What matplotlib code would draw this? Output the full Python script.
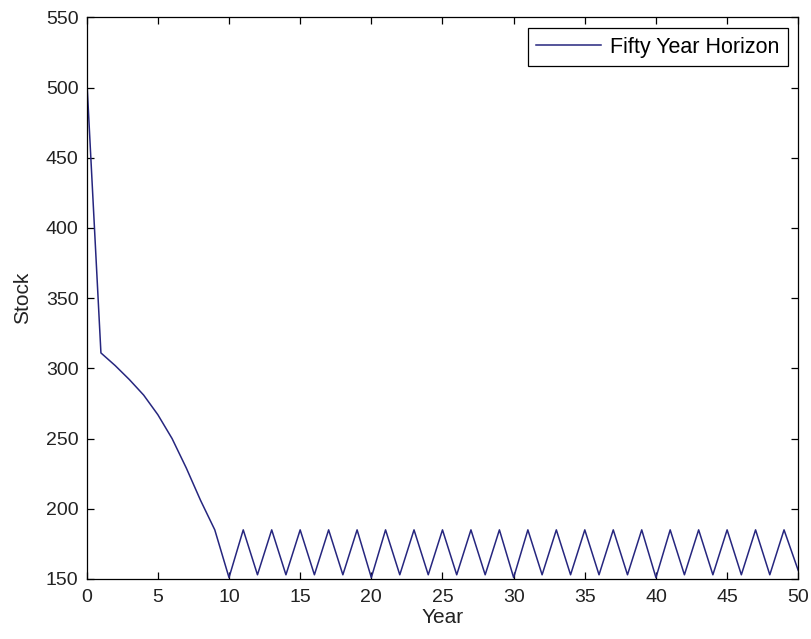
import matplotlib
matplotlib.use('Agg')
import matplotlib.pyplot as plt

# values
years = list(range(0, 51))
stock = [507, 311, 302, 292, 281, 267, 250, 229, 206, 185,
         151, 185, 153, 185, 153, 185, 153, 185, 153, 185,
         151, 185, 153, 185, 153, 185, 153, 185, 153, 185,
         151, 185, 153, 185, 153, 185, 153, 185, 153, 185,
         151, 185, 153, 185, 153, 185, 153, 185, 153, 185,
         156]

x_ticks = [0, 5, 10, 15, 20, 25, 30, 35, 40, 45, 50]
y_ticks = [150, 200, 250, 300, 350, 400, 450, 500, 550]

plt.rcParams['font.family'] = ['Liberation Sans', 'DejaVu Sans']

fig = plt.figure(figsize=(8.11, 6.39), dpi=100)
ax = fig.add_axes([0.1069, 0.0939, 0.8774, 0.879])

ax.plot(years, stock, color='#26267f', linewidth=1.1, label='Fifty Year Horizon')

ax.set_xlim(0, 50)
ax.set_ylim(150, 550)
ax.set_xticks(x_ticks)
ax.set_yticks(y_ticks)
ax.tick_params(direction='in', length=5, width=0.9, top=True, right=True,
               labelsize=14, labelcolor='#222222')
ax.tick_params(axis='x', pad=7)
ax.tick_params(axis='y', pad=6)
for s in ax.spines.values():
    s.set_linewidth(0.9)

ax.set_xlabel('Year', fontsize=15, labelpad=2, color='#222222')
ax.set_ylabel('Stock', fontsize=15, labelpad=10, color='#222222')

leg = ax.legend(loc='upper right', fontsize=15.5, fancybox=False, framealpha=1,
                edgecolor='black', borderaxespad=0.5, handlelength=3.0,
                handletextpad=0.4, borderpad=0.4)
leg.get_frame().set_linewidth(0.9)

fig.savefig('out.png', dpi=100)
